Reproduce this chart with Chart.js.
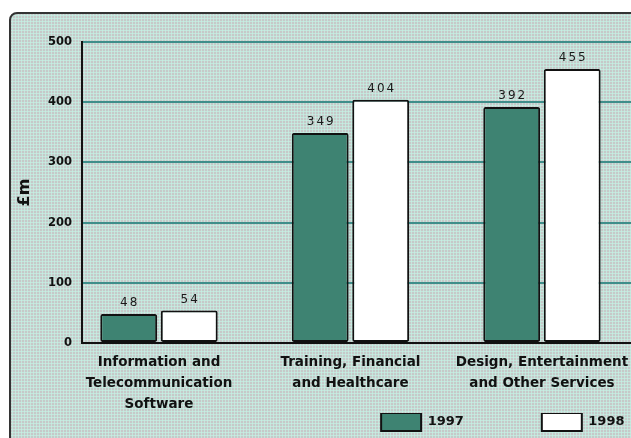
<!DOCTYPE html>
<html>
<head>
<meta charset="utf-8">
<script src="https://cdn.jsdelivr.net/npm/chart.js@4/dist/chart.umd.min.js"></script>
<style>
  html, body { margin: 0; padding: 0; background: #fff; overflow: hidden; }
  #wrap { position: relative; width: 631px; height: 438px; overflow: hidden; }
  #panel {
    position: absolute; left: 9px; top: 12px; width: 660px; height: 460px;
    border: 2px solid #333; border-radius: 8px; box-sizing: border-box;
    background-color: #c6c9c9;
    background-image: radial-gradient(circle, #c4eee2 0.9px, transparent 1.3px);
    background-size: 3px 3px;
  }
  #chart { position: absolute; left: 0; top: 0; }
</style>
</head>
<body>
<div id="wrap">
  <div id="panel"></div>
  <canvas id="chart" width="631" height="438"></canvas>
</div>
<script>
const categories = [
    ["Information and", "Telecommunication", "Software"],
    ["Training, Financial", "and Healthcare"],
    ["Design, Entertainment", "and Other Services"]
];
const seriesNames = ["1997", "1998"];
const values1997 = [48, 349, 392];
const values1998 = [54, 404, 455];
const yTicks = [0, 100, 200, 300, 400, 500];

const FONT = "'DejaVu Sans', sans-serif";

// bar value labels above each bar
const valueLabels = {
    id: 'valueLabels',
    afterDatasetsDraw(chart) {
        const ctx = chart.ctx;
        ctx.save();
        ctx.font = "12px " + FONT;
        ctx.fillStyle = "#1a1a1a";
        ctx.textAlign = "center";
        ctx.textBaseline = "bottom";
        ctx.letterSpacing = "2px";
        chart.data.datasets.forEach((ds, di) => {
            chart.getDatasetMeta(di).data.forEach((bar, i) => {
                ctx.fillText(String(ds.data[i].y), bar.x + 1, bar.y - 5);
            });
        });
        ctx.restore();
    }
};

function toPoints(values) {
    return values.map((v, i) => ({ x: i, y: v }));
}

const ctx = document.getElementById("chart").getContext("2d");

new Chart(ctx, {
    type: "bar",
    data: {
        datasets: [
            {
                label: seriesNames[0],
                data: toPoints(values1997),
                backgroundColor: "#3e8372",
                borderColor: "#111",
                borderWidth: 2,
                borderRadius: 2,
                borderSkipped: false
            },
            {
                label: seriesNames[1],
                data: toPoints(values1998),
                backgroundColor: "#ffffff",
                borderColor: "#111",
                borderWidth: 2,
                borderRadius: 2,
                borderSkipped: false
            }
        ]
    },
    options: {
        responsive: false,
        animation: false,
        devicePixelRatio: 1,
        categoryPercentage: 0.632,
        barPercentage: 0.94,
        layout: { padding: { top: 42, left: 0, right: 0, bottom: -3 } },
        plugins: {
            tooltip: { enabled: false },
            legend: {
                position: "bottom",
                align: "end",
                labels: {
                    boxWidth: 40,
                    boxHeight: 18,
                    padding: 0,
                    color: "#111",
                    font: { family: FONT, size: 13, weight: "bold" },
                    generateLabels(chart) {
                        const items = Chart.defaults.plugins.legend.labels.generateLabels(chart);
                        // spacing between the two entries, as in the original key
                        items[0].text = items[0].text + "\u2003\u2003\u2003\u2003\u2003\u2003";
                        items[1].text = items[1].text + "\u2002";
                        return items;
                    }
                }
            }
        },
        scales: {
            x: {
                type: "linear",
                offset: false,
                min: -0.402,
                max: 2.465,
                grid: { display: false, drawTicks: false, offset: false },
                border: { color: "#111", width: 2 },
                afterBuildTicks(scale) {
                    scale.ticks = categories.map((c, i) => ({ value: i }));
                },
                afterFit(scale) {
                    scale.height = 70;
                    // gridlines run to the edge; don't reserve room for the last label
                    scale.paddingLeft = 0;
                    scale.paddingRight = 0;
                },
                ticks: {
                    autoSkip: false,
                    maxRotation: 0,
                    padding: 9,
                    color: "#111",
                    font: { family: FONT, size: 13.5, weight: "bold", lineHeight: 1.56 },
                    callback: (v) => categories[v]
                }
            },
            y: {
                min: 0,
                max: 500,
                afterBuildTicks(scale) {
                    scale.ticks = yTicks.map(v => ({ value: v }));
                },
                afterFit(scale) {
                    scale.width = 82;
                },
                grid: { color: "#3f8e8a", lineWidth: 2, drawTicks: false },
                border: { color: "#111", width: 2 },
                ticks: {
                    padding: 10,
                    color: "#111",
                    font: { family: FONT, size: 11.5, weight: "bold" }
                },
                title: {
                    display: true,
                    text: "£m",
                    color: "#111",
                    font: { family: FONT, size: 16, weight: "bold" },
                    padding: { top: 15, bottom: 0 }
                }
            }
        }
    },
    plugins: [valueLabels]
});
</script>
</body>
</html>
